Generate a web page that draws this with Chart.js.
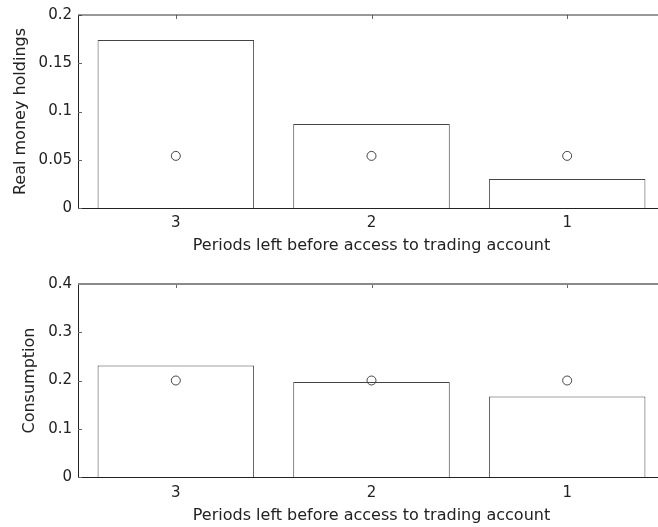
<!DOCTYPE html>
<html>
<head>
<meta charset="utf-8">
<script src="https://cdn.jsdelivr.net/npm/chart.js@4"></script>
<style>
  html, body { margin: 0; padding: 0; background: #fff; }
  #page { position: relative; width: 658px; height: 527px; overflow: hidden; }
  .panel { position: absolute; left: 0; width: 665px; }
  .panel canvas { display: block; width: 665px; }
  #p1 { top: 0; height: 264px; }
  #p2 { top: 264px; height: 263px; }
  #money { height: 264px; }
  #consumption { height: 263px; }
</style>
</head>
<body>
<div id="page">
  <div class="panel" id="p1"><canvas id="money" width="665" height="264"></canvas></div>
  <div class="panel" id="p2"><canvas id="consumption" width="665" height="263"></canvas></div>
</div>
<script>
// Periods remaining before the trading account can be used
const periods = ['3', '2', '1'];

// Upper panel: real money holdings
const moneyBars = [0.174, 0.087, 0.030];
const moneyMarks = [0.054, 0.054, 0.054];
const moneyTicks = [0, 0.05, 0.1, 0.15, 0.2];

// Lower panel: consumption
const consumptionBars = [0.231, 0.197, 0.167];
const consumptionMarks = [0.2, 0.2, 0.2];
const consumptionTicks = [0, 0.1, 0.2, 0.3, 0.4];

const xTitle = 'Periods left before access to trading account';
const FONT = 'DejaVu Sans';
const INK = '#222';

// Top edge of the plot box with short inward tick marks
const framePlugin = {
  id: 'frame',
  beforeDatasetsDraw(chart, args, opts) {
    const { ctx, chartArea: a, scales: { x, y } } = chart;
    ctx.save();
    ctx.strokeStyle = '#666';
    ctx.lineWidth = 1;
    ctx.beginPath();
    x.ticks.forEach((t, i) => {
      const px = Math.round(x.getPixelForTick(i)) + 0.5;
      ctx.moveTo(px, a.top); ctx.lineTo(px, a.top + 4);
      ctx.moveTo(px, a.bottom); ctx.lineTo(px, a.bottom - 4);
    });
    y.ticks.forEach(t => {
      const py = Math.round(y.getPixelForValue(t.value)) + 0.5;
      ctx.moveTo(a.left, py); ctx.lineTo(a.left + 4, py);
    });
    ctx.stroke();
    ctx.strokeStyle = opts.topColor;
    ctx.lineWidth = opts.topWidth;
    ctx.beginPath();
    ctx.moveTo(a.left, a.top); ctx.lineTo(a.right, a.top);
    ctx.stroke();
    ctx.restore();
  }
};

function panel(id, bars, marks, ticks, yTitle, cfg) {
  return new Chart(document.getElementById(id), {
    type: 'bar',
    data: {
      labels: periods,
      datasets: [
        {
          type: 'line',
          data: marks,
          showLine: false,
          pointStyle: 'circle',
          pointRadius: 4.5,
          pointBorderWidth: 1,
          pointBorderColor: '#444',
          pointBackgroundColor: 'rgba(0,0,0,0)',
          order: 0
        },
        {
          type: 'bar',
          data: bars,
          backgroundColor: '#fff',
          borderColor: '#444',
          borderWidth: 1,
          barPercentage: 0.8,
          categoryPercentage: 1,
          order: 1
        }
      ]
    },
    options: {
      responsive: false,
      maintainAspectRatio: false,
      animation: false,
      devicePixelRatio: 1,
      layout: { autoPadding: false, padding: { top: cfg.top, left: 0, right: 0, bottom: 0 } },
      plugins: {
        legend: { display: false },
        tooltip: { enabled: false },
        frame: { topColor: cfg.topColor, topWidth: cfg.topWidth }
      },
      scales: {
        x: {
          grid: { display: false, drawTicks: false },
          border: { display: true, color: INK, width: 1 },
          ticks: { padding: cfg.xPad, color: INK, font: { family: FONT, size: 15 } },
          title: {
            display: true, text: xTitle, color: INK,
            font: { family: FONT, size: 16 },
            padding: { top: 0, bottom: cfg.xTitlePad }
          },
          afterFit: s => { s.height = cfg.xHeight; }
        },
        y: {
          min: ticks[0],
          max: ticks[ticks.length - 1],
          afterBuildTicks: s => { s.ticks = ticks.map(v => ({ value: v })); },
          grid: { display: false, drawTicks: false },
          border: { display: true, color: INK, width: 1 },
          ticks: { padding: 6, color: INK, font: { family: FONT, size: 15 }, callback: v => String(v) },
          title: {
            display: true, text: yTitle, color: INK,
            font: { family: FONT, size: 16 },
            padding: { top: cfg.yTitlePad, bottom: 0 }
          },
          afterFit: s => { s.width = 78; }
        }
      }
    },
    plugins: [framePlugin]
  });
}

panel('money', moneyBars, moneyMarks, moneyTicks, 'Real money holdings',
  { top: 14, xHeight: 56, xPad: 6, xTitlePad: 9, yTitlePad: 11, topColor: '#333', topWidth: 1 });
panel('consumption', consumptionBars, consumptionMarks, consumptionTicks, 'Consumption',
  { top: 20, xHeight: 50, xPad: 7, xTitlePad: 2, yTitlePad: 20, topColor: '#8a8a8a', topWidth: 2 });
</script>
</body>
</html>
